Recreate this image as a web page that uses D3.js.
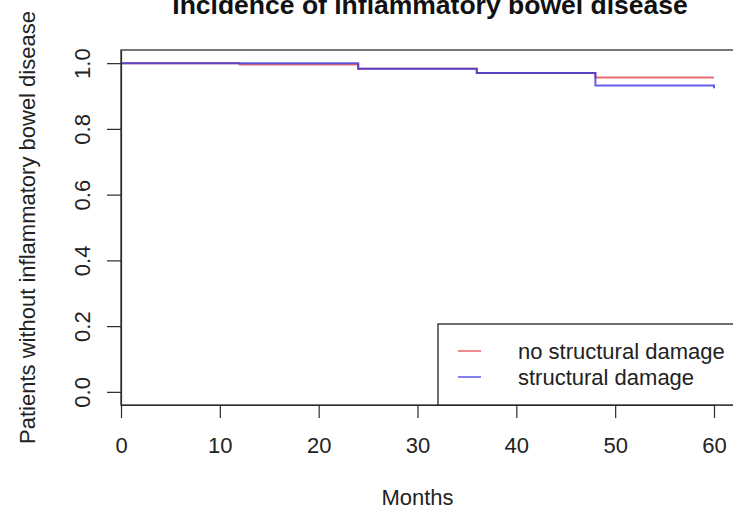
<!DOCTYPE html>
<html>
<head>
<meta charset="utf-8">
<script src="https://cdn.jsdelivr.net/npm/d3@7"></script>
<style>
  html, body { margin: 0; padding: 0; background: #fff; }
  svg { display: block; font-family: "Liberation Sans", Arial, Helvetica, sans-serif; }
</style>
</head>
<body>
<svg id="chart" width="733" height="514"></svg>
<script>
// Kaplan-Meier step estimates (survival without IBD) by follow-up month
const noDamageTimes = [0, 12, 24, 36, 48, 60];
const noDamageSurv  = [1.000, 0.996, 0.983, 0.970, 0.956, 0.956];
const damageTimes   = [0, 24, 36, 48, 60];
const damageSurv    = [1.000, 0.983, 0.970, 0.932, 0.924];

const seriesNames = ["no structural damage", "structural damage"];
const seriesColors = ["#e2474b", "#3434e0"];

const xTicks = [0, 10, 20, 30, 40, 50, 60];
const yTicks = [0.0, 0.2, 0.4, 0.6, 0.8, 1.0];

const titleText = "Incidence of inflammatory bowel disease";
const xTitle = "Months";
const yTitle = "Patients without inflammatory bowel disease";

const W = 733, H = 514;
const svg = d3.select("#chart");

const x = d3.scaleLinear().domain([0, 60]).range([121, 714]);
const y = d3.scaleLinear().domain([-0.04, 1.04]).range([405, 50]);

const axisColor = "#2a2a2a";
const fontSize = 22;

// plot frame (right side runs past the canvas)
svg.append("rect")
  .attr("x", x(0)).attr("y", y(1.04))
  .attr("width", 700).attr("height", y(-0.04) - y(1.04))
  .attr("fill", "none").attr("stroke", "#4a4a4a").attr("stroke-width", 1.5);

// survival curves
const step = d3.line().curve(d3.curveStepAfter)
  .x(d => x(d[0])).y(d => y(d[1]));

const curves = [
  d3.zip(noDamageTimes, noDamageSurv),
  d3.zip(damageTimes, damageSurv)
];
curves.forEach((pts, i) => {
  svg.append("path")
    .attr("d", step(pts))
    .attr("fill", "none")
    .attr("stroke", seriesColors[i])
    .attr("stroke-opacity", 0.78)
    .attr("stroke-width", 2);
});

// x axis
const xAxis = svg.append("g")
  .attr("transform", `translate(0,${y(-0.04)})`)
  .call(d3.axisBottom(x).tickValues(xTicks).tickSize(13).tickSizeOuter(0).tickFormat(d3.format("d")));
xAxis.select(".domain").attr("stroke", axisColor).attr("stroke-width", 1.2);
xAxis.selectAll(".tick line").attr("stroke", axisColor).attr("stroke-width", 1.2);
xAxis.selectAll(".tick text")
  .attr("y", 48).attr("dy", 0)
  .attr("fill", "#222").style("font-size", fontSize + "px");

// y axis with rotated labels
const yAxis = svg.append("g")
  .attr("transform", `translate(${x(0)},0)`)
  .call(d3.axisLeft(y).tickValues(yTicks).tickSize(14).tickSizeOuter(0).tickFormat(d3.format(".1f")));
yAxis.select(".domain").attr("stroke", axisColor).attr("stroke-width", 1.2);
yAxis.selectAll(".tick line").attr("stroke", axisColor).attr("stroke-width", 1.2);
yAxis.selectAll(".tick text")
  .attr("x", 0).attr("dy", 0)
  .attr("text-anchor", "middle")
  .attr("transform", "translate(-31,0) rotate(-90)")
  .attr("fill", "#222").style("font-size", fontSize + "px");

// legend
const lg = svg.append("g");
lg.append("rect")
  .attr("x", 438).attr("y", 324).attr("width", 400).attr("height", y(-0.04) - 324)
  .attr("fill", "#fff").attr("stroke", "#222").attr("stroke-width", 1.3);
seriesNames.forEach((name, i) => {
  const cy = 351 + i * 26;
  lg.append("line")
    .attr("x1", 458).attr("x2", 481).attr("y1", cy).attr("y2", cy)
    .attr("stroke", seriesColors[i]).attr("stroke-opacity", 0.78).attr("stroke-width", 1.6);
  lg.append("text")
    .attr("x", 518).attr("y", cy + 8)
    .attr("fill", "#222").style("font-size", fontSize + "px")
    .text(name);
});

// titles
svg.append("text")
  .attr("x", 430).attr("y", 14)
  .attr("text-anchor", "middle")
  .style("font-size", "26.5px").style("font-weight", "bold")
  .attr("fill", "#111")
  .text(titleText);

svg.append("text")
  .attr("x", (x(0) + x(60)) / 2).attr("y", 505)
  .attr("text-anchor", "middle")
  .attr("fill", "#222").style("font-size", fontSize + "px")
  .text(xTitle);

svg.append("text")
  .attr("transform", `translate(35,${(y(1.04) + y(-0.04)) / 2}) rotate(-90)`)
  .attr("text-anchor", "middle")
  .attr("fill", "#222").style("font-size", fontSize + "px")
  .text(yTitle);
</script>
</body>
</html>
